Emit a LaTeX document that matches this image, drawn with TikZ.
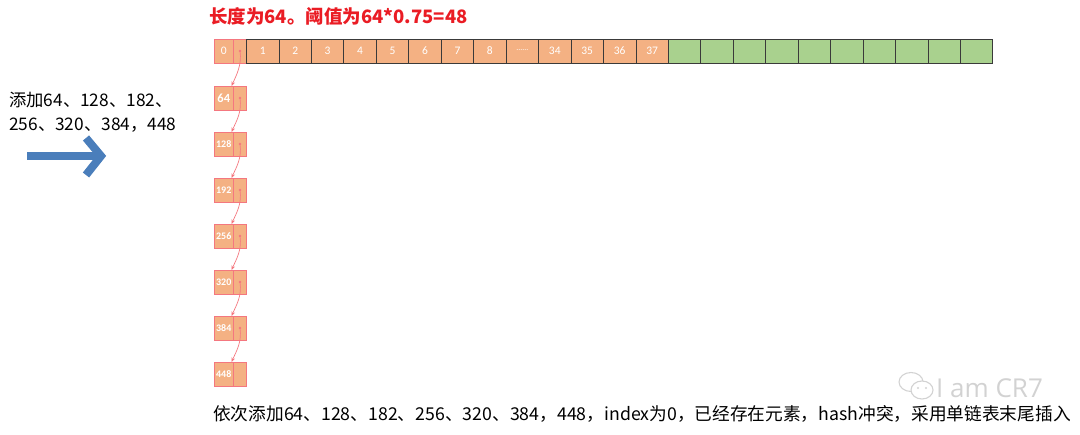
\documentclass[tikz,border=0pt]{standalone}
\usepackage{fontspec}
\setmainfont{Carlito}
\newfontfamily\cjk{Noto Sans CJK SC}
\newfontfamily\wmfont{Open Sans}
\usetikzlibrary{arrows.meta,calc}
\definecolor{cellor}{HTML}{F4B183}
\definecolor{cellgr}{HTML}{A9D18E}
\definecolor{cellline}{HTML}{3A3A3A}
\definecolor{redline}{HTML}{F4777F}
\definecolor{titlered}{HTML}{EA1C24}
\definecolor{arrblue}{HTML}{4A7EBB}
\definecolor{wmgray}{HTML}{D2D2D2}
\tikzset{
  cellbase/.style={inner sep=0pt, outer sep=0pt, minimum height=24pt, text=white, font=\fontsize{11.5}{12}\selectfont},
  ocell/.style={cellbase, draw=cellline, line width=0.8pt, fill=cellor, minimum width=32.45pt},
  gcell/.style={cellbase, draw=cellline, line width=0.8pt, fill=cellgr, minimum width=32.45pt},
  rcellL/.style={cellbase, draw=redline, line width=0.7pt, fill=cellor, minimum width=19.5pt},
  rcellR/.style={cellbase, draw=redline, line width=0.7pt, fill=cellor, minimum width=13pt},
  bigfont/.style={font=\bfseries\fontsize{12.5}{12}\selectfont},
  smallfont/.style={font=\bfseries\fontsize{10}{10}\selectfont},
  ptr/.style={fill=redline, circle, inner sep=0pt, minimum size=2.6pt},
  link/.style={draw=redline, line width=0.7pt, -{Stealth[length=4.5pt,width=3.5pt]}},
  bigarrow/.style={draw=arrblue, line width=8pt},
  cjktext/.style={inner sep=0pt, anchor=west, font=\cjk\fontsize{17.3}{23.5}\selectfont, align=left}
}
\begin{document}
\begin{tikzpicture}[x=1pt,y=-1pt]
\useasboundingbox (0,0) rectangle (1080,435);
% title
\node[cjktext, text=titlered, font=\cjk\bfseries\fontsize{18.5}{20}\selectfont] (title) at (209,16) {长度为64。阈值为64*0.75=48};
% top array
\node[rcellL] (t0L) at (223.75,51) {0};
\node[rcellR] (t0R) at (240,51) {};
\node[ptr] (t0p) at (t0R.center) {};
\foreach \i/\lab in {1/1,2/2,3/3,4/4,5/5,6/6,7/7,8/8,9/{\fontsize{8}{8}\selectfont\raisebox{1pt}{......}},10/34,11/35,12/36,13/37}{
  \node[ocell] (t\i) at ({246.5+32.45*(\i-0.5)},51) {\lab};
}
\foreach \i in {14,...,23}{
  \node[gcell] (t\i) at ({246.5+32.45*(\i-0.5)},51) {};
}
% chain
\foreach \k/\v/\fs in {1/64/bigfont,2/128/smallfont,3/192/smallfont,4/256/smallfont,5/320/smallfont,6/384/smallfont,7/448/smallfont}{
  \node[rcellL, \fs] (c\k L) at (223.75,{98+46*(\k-1)}) {\v};
  \node[rcellR] (c\k R) at (240,{98+46*(\k-1)}) {};
}
\foreach \k in {1,...,6}{
  \node[ptr] (c\k p) at (c\k R.center) {};
}
% links
\draw[link] (t0p.center) .. controls +(2,14) and +(5,-11) .. ($(c1L.north east)+(-2,0)$);
\foreach \a/\b in {1/2,2/3,3/4,4/5,5/6,6/7}{
  \draw[link] (c\a p.center) .. controls +(2,14) and +(5,-11) .. ($(c\b L.north east)+(-2,0)$);
}
% left label and arrow
\node[cjktext] (addlbl) at (9,112) {添加64、128、182、\\256、320、384，448};
\coordinate (arrS) at (27,156);
\coordinate (arrE) at (101,156);
\coordinate (chevA) at (86,138);
\coordinate (chevB) at (86,175);
\draw[bigarrow] (arrS) -- (arrE);
\draw[bigarrow, miter limit=4] (chevA) -- (arrE) -- (chevB);
% watermark
\node[inner sep=0pt, anchor=west, text=wmgray, font=\wmfont\fontsize{26}{26}\selectfont] (wm) at (936,388) {I am CR7};
\draw[wmgray, line width=1.1pt] (911,382) ellipse (12pt and 9.5pt);
\draw[wmgray, line width=1.1pt, fill=white] (922,390) ellipse (11pt and 9pt);
\fill[wmgray] (918,388) circle (1.2pt) (926,388) circle (1.2pt);
% bottom caption
\node[cjktext, font=\cjk\fontsize{17.7}{20}\selectfont] (caption) at (213,414) {依次添加64、128、182、256、320、384，448，index为0，已经存在元素，hash冲突，采用单链表末尾插入};
\end{tikzpicture}
\end{document}
